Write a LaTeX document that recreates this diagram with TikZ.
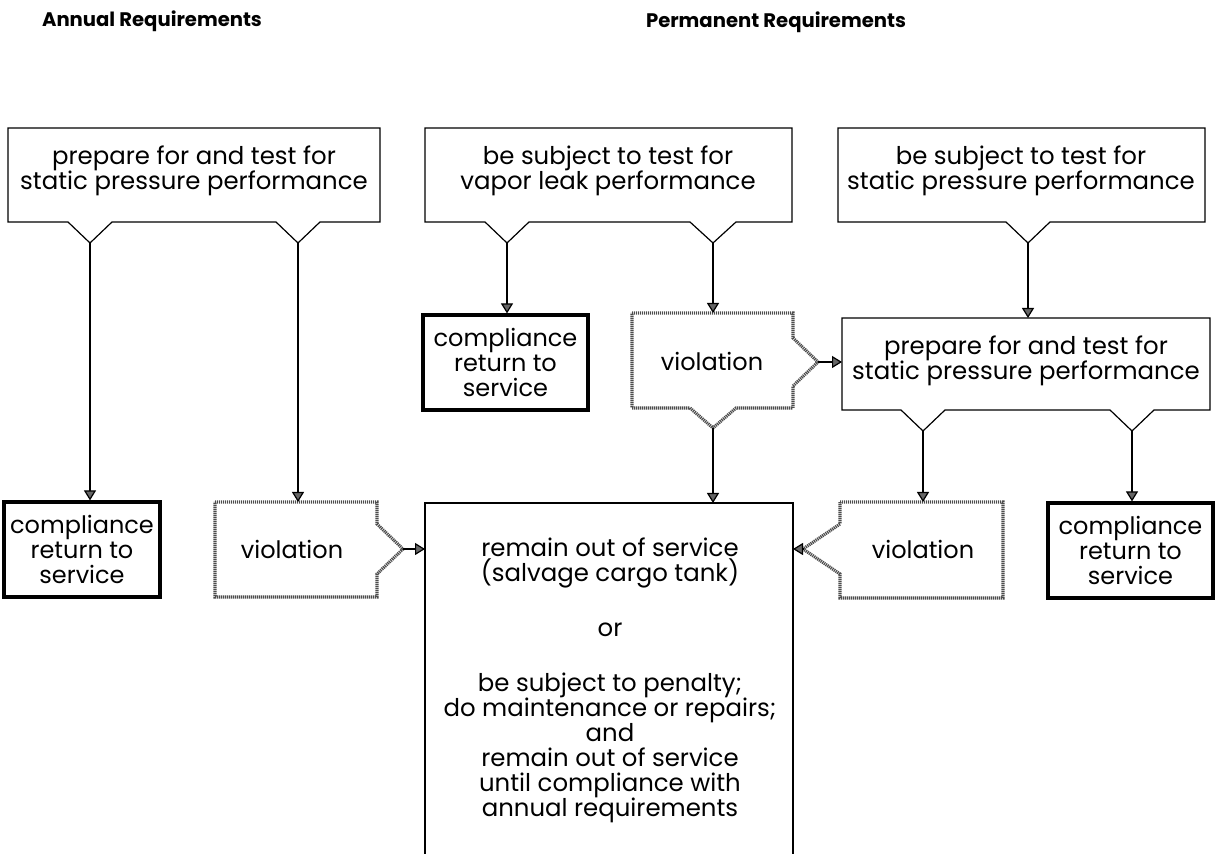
\documentclass[tikz,border=0pt]{standalone}
\usepackage{fontspec}
\setmainfont{Poppins}
\usetikzlibrary{arrows.meta,calc}
\tikzset{
  txt/.style={align=center, inner sep=0pt, font=\fontsize{12.2}{12.5}\selectfont},
  bigtxt/.style={align=center, inner sep=0pt, font=\fontsize{12}{12.3}\selectfont},
  hdr/.style={inner sep=0pt, font=\fontsize{9.8}{12}\selectfont\bfseries},
  callout/.style={draw=black, line width=0.6pt, line join=miter},
  thickbox/.style={draw=black, line width=1.6pt},
  viol/.style={draw=black!70, line width=1.6pt, dash pattern=on 0.6pt off 0.4pt, line join=miter},
  plain/.style={draw=black, line width=0.6pt},
  conn/.style={draw=black, line width=0.6pt, -{Triangle[length=5pt,width=6pt,fill=black!60]}},
}
\begin{document}
\begin{tikzpicture}[x=0.5pt,y=-0.5pt]
\useasboundingbox (0,0) rectangle (1216,854);
\fill[white] (0,0) rectangle (1216,854);

% headers
\node[hdr] (h1) at (152,21) {Annual Requirements};
\node[hdr] (h2) at (776,22) {Permanent Requirements};

% ---- top callout boxes ----
\draw[callout] (8,128) -- (380,128) -- (380,222) -- (320,222) -- (298,243) -- (276,222)
  -- (112,222) -- (90,243) -- (68,222) -- (8,222) -- cycle;
\node[txt] (a1) at (194,171) {prepare for and test for\\static pressure performance};
\coordinate (a1l) at (90,243);
\coordinate (a1r) at (298,243);

\draw[callout] (425,128) -- (792,128) -- (792,222) -- (736,222) -- (713,243) -- (690,222)
  -- (529,222) -- (507,243) -- (485,222) -- (425,222) -- cycle;
\node[txt] (p1) at (608,171) {be subject to test for\\vapor leak performance};
\coordinate (p1l) at (507,243);
\coordinate (p1r) at (713,243);

\draw[callout] (838,128) -- (1205,128) -- (1205,222) -- (1050,222) -- (1028,243) -- (1006,222)
  -- (838,222) -- cycle;
\node[txt] (p2) at (1021,171) {be subject to test for\\static pressure performance};
\coordinate (p2t) at (1028,243);

% ---- middle row ----
\node[thickbox, minimum width=165*0.5pt, minimum height=95*0.5pt, inner sep=0pt] (c2) at (505.5,362.5) {};
\node[bigtxt] (c2t) at (c2.center) {compliance\\return to\\service};

\draw[viol] (632,313) -- (793,313) -- (793,338) -- (818,362) -- (793,386) -- (793,408)
  -- (736,408) -- (713,428) -- (690,408) -- (632,408) -- cycle;
\node[bigtxt] (vm) at (712,361) {violation};
\coordinate (vmr) at (818,362);
\coordinate (vmb) at (713,428);

\draw[callout] (842,318) -- (1210,318) -- (1210,410) -- (1154,410) -- (1132,431) -- (1110,410)
  -- (945,410) -- (923,431) -- (901,410) -- (842,410) -- cycle;
\node[txt] (p3) at (1026,361) {prepare for and test for\\static pressure performance};
\coordinate (p3box) at (842,362);
\coordinate (p3top) at (1028,318);
\coordinate (p3l) at (923,431);
\coordinate (p3r) at (1132,431);

% ---- bottom row ----
\node[thickbox, minimum width=156*0.5pt, minimum height=95*0.5pt, inner sep=0pt] (c1) at (82,549.5) {};
\node[bigtxt] (c1t) at (c1.center) {compliance\\return to\\service};

\draw[viol] (215,502) -- (377,502) -- (377,524) -- (403,549) -- (377,574) -- (377,597)
  -- (215,597) -- cycle;
\node[bigtxt] (v1) at (292,549) {violation};
\coordinate (v1p) at (403,549);
\coordinate (v1top) at (298,502);

\draw[plain] (425,870) -- (425,503) -- (793,503) -- (793,870);
\coordinate (ctl) at (425,549);
\coordinate (ctr) at (793,549);
\coordinate (cttop) at (713,503);
\node[txt] (ct) at (610,680) {remain out of service\\(salvage cargo tank)\\[15pt]or\\[15pt]be subject to penalty;\\do maintenance or repairs;\\and\\remain out of service\\until compliance with\\annual requirements};

\draw[viol] (840,502) -- (1003,502) -- (1003,598) -- (840,598) -- (840,574) -- (803,549)
  -- (840,524) -- cycle;
\node[bigtxt] (v3) at (923,549) {violation};
\coordinate (v3p) at (803,549);
\coordinate (v3top) at (923,502);

\node[thickbox, minimum width=165*0.5pt, minimum height=95*0.5pt, inner sep=0pt] (c3) at (1130.5,550.5) {};
\node[bigtxt] (c3t) at (c3.center) {compliance\\return to\\service};

% ---- connectors ----
\draw[conn] (a1l) -- (a1l |- c1.north);
\draw[conn] (a1r) -- (v1top);
\draw[conn] (p1l) -- (p1l |- c2.north);
\draw[conn] (p1r) -- (713,313);
\draw[conn] (p2t) -- (p3top);
\draw[conn] (vmr) -- (p3box);
\draw[conn] (vmb) -- (cttop);
\draw[conn] (v1p) -- (ctl);
\draw[conn] (v3p) -- (ctr);
\draw[conn] (p3l) -- (v3top);
\draw[conn] (p3r) -- (p3r |- c3.north);
\end{tikzpicture}
\end{document}
